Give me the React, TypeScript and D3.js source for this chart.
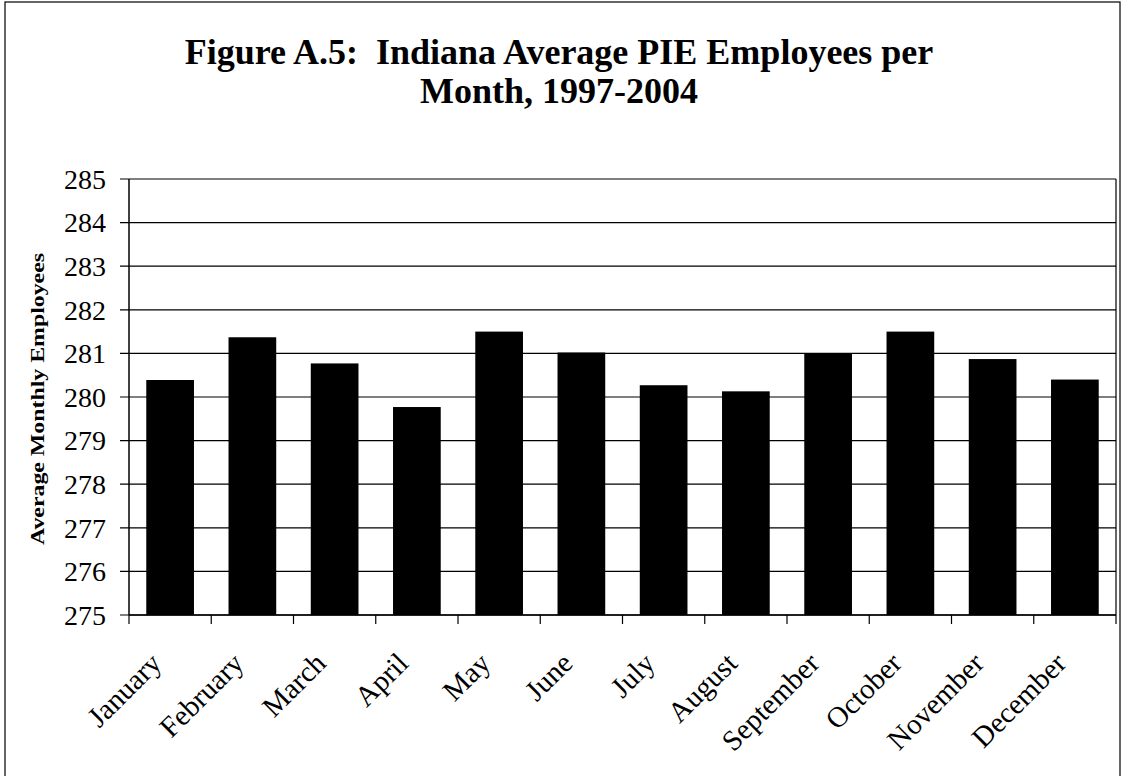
import React from "react";
import * as d3 from "d3";

const months = ["January","February","March","April","May","June","July","August","September","October","November","December"];
const values = [280.39, 281.37, 280.77, 279.77, 281.5, 281.02, 280.27, 280.13, 281.0, 281.5, 280.87, 280.4];
const yTicks = [275,276,277,278,279,280,281,282,283,284,285];
const titleLines = ["Figure A.5:  Indiana Average PIE Employees per", "Month, 1997-2004"];
const yLabel = "Average Monthly Employees";

const W = 1123, H = 776;
const L = 129, R = 1116, T = 179, B = 615;

export default function App() {
  const x = d3.scaleBand<string>().domain(months).range([L, R]).paddingInner(0.42).paddingOuter(0.21);
  const xEdge = d3.scaleBand<string>().domain(months).range([L, R]);
  const y = d3.scaleLinear().domain([275, 285]).range([B, T]);
  const font = "'Liberation Serif', 'Times New Roman', serif";
  return (
    <svg width={W} height={H} style={{ position: "absolute", left: 0, top: 0, background: "#fff" }} fontFamily={font}>
      <rect x={0} y={0} width={W} height={H} fill="#fff" />
      <rect x={5} y={2} width={1115} height={H + 10} fill="none" stroke="#000" strokeWidth={1.2} />
      {titleLines.map((t, i) => (
        <text key={i} x={559} y={64 + i * 39} textAnchor="middle" fontSize={36} fontWeight="bold" style={{ whiteSpace: "pre" }}>{t}</text>
      ))}
      {yTicks.map(v => (
        <g key={v}>
          <line x1={L - 9} x2={R} y1={y(v)} y2={y(v)} stroke="#000" strokeWidth={1.2} />
          <text x={106} y={y(v)} dy="0.35em" textAnchor="end" fontSize={28}>{v}</text>
        </g>
      ))}
      {months.map((m, i) => (
        <rect key={m} x={x(m)} y={y(values[i])} width={x.bandwidth()} height={B - y(values[i])} fill="#000" />
      ))}
      <line x1={L} x2={L} y1={T} y2={B} stroke="#000" strokeWidth={1.5} />
      <line x1={R} x2={R} y1={T} y2={B} stroke="#000" strokeWidth={1.2} />
      <line x1={L} x2={R} y1={B} y2={B} stroke="#000" strokeWidth={1.5} />
      {months.map(m => (
        <line key={m} x1={xEdge(m)} x2={xEdge(m)} y1={B} y2={B + 9} stroke="#000" strokeWidth={1.2} />
      ))}
      <line x1={R} x2={R} y1={B} y2={B + 9} stroke="#000" strokeWidth={1.2} />
      {months.map(m => {
        const cx = (xEdge(m) as number) + xEdge.bandwidth() / 2;
        return (
          <text key={m} transform={`translate(${cx - 7},${665}) rotate(-45)`} textAnchor="end" fontSize={29}>{m}</text>
        );
      })}
      <text transform={`translate(44,399) rotate(-90)`} textAnchor="middle" fontSize={19} fontWeight="bold" textLength={292} lengthAdjust="spacingAndGlyphs">{yLabel}</text>
    </svg>
  );
}
